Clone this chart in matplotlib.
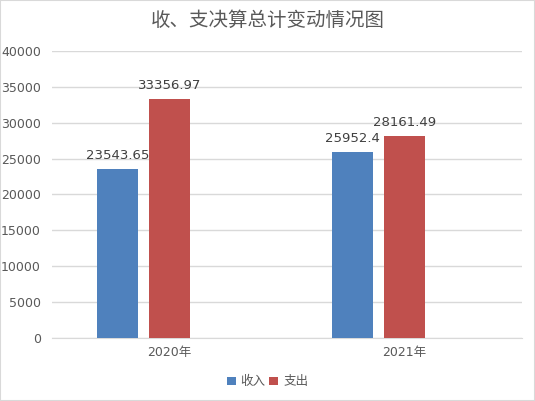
import matplotlib.pyplot as plt
import numpy as np

plt.rcParams['font.family'] = ['DejaVu Sans', 'Noto Sans CJK SC']

# data
years = ['2020年', '2021年']
income = [23543.65, 25952.4]
expense = [33356.97, 28161.49]
income_labels = ['23543.65', '25952.4']
expense_labels = ['33356.97', '28161.49']

fig = plt.figure(figsize=(5.35, 4.01), dpi=100)
fig.patches.append(plt.Rectangle((0, 0), 1, 1, transform=fig.transFigure,
                                 fill=False, edgecolor='#d9d9d9', linewidth=1.5))
ax = fig.add_axes([0.0972, 0.157, 0.8785, 0.716])

x = np.arange(len(years))
w = 0.175
off = 0.221
b1 = ax.bar(x - off, income, w, color='#4F81BD', label='收入', zorder=3)
b2 = ax.bar(x, expense, w, color='#C0504D', label='支出', zorder=3)

for bars, labs in ((b1, income_labels), (b2, expense_labels)):
    for b, t in zip(bars, labs):
        ax.annotate(t, (b.get_x() + b.get_width() / 2, b.get_height()),
                    xytext=(0, 5), textcoords='offset points',
                    ha='center', va='bottom', fontsize=9.5, color='#404040')

ax.set_xlim(-0.5, 1.5)
ax.set_ylim(0, 40000)
ax.set_yticks(range(0, 40001, 5000))
ax.set_xticks(x)
ax.set_xticklabels(years)
ax.tick_params(length=0, labelsize=9, labelcolor='#595959', pad=6)
ax.tick_params(axis='y', pad=8)
ax.grid(axis='y', color='#d9d9d9', linewidth=1, zorder=0)
for s in ['top', 'right', 'left']:
    ax.spines[s].set_visible(False)
ax.spines['bottom'].set_color('#d9d9d9')

fig.text(0.5, 0.948, '收、支决算总计变动情况图', ha='center', va='center',
         fontsize=14, color='#595959', family=['Noto Sans CJK SC'])

fig.legend(loc='center', bbox_to_anchor=(0.5, 0.048), ncol=2, frameon=False,
           fontsize=9, handlelength=0.7, handleheight=0.7, handletextpad=0.4,
           columnspacing=0.3, labelcolor='#595959')

fig.savefig('out.png', dpi=100)
